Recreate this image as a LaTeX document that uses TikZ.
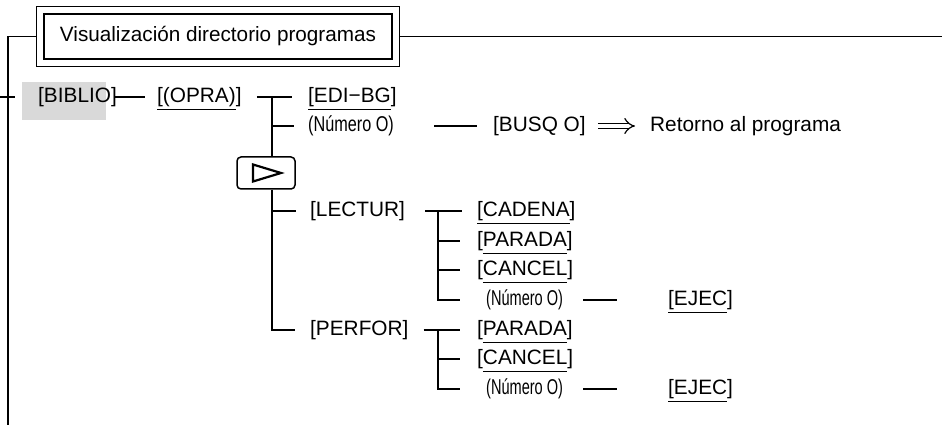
\documentclass[tikz,border=0pt]{standalone}
\usepackage{fontspec}
\setmainfont{Liberation Sans}
\usepackage{graphicx}
\usetikzlibrary{arrows.meta}
% underline drawn as a rule at a fixed depth below the baseline
\newcommand\ulbox[1]{\setbox0=\hbox{#1}\rlap{\rule[-7.6pt]{\wd0}{1.2pt}}\box0}
\newcommand\numO[1]{\scalebox{#1}[1.03]{(Número O)}}
\begin{document}
\begin{tikzpicture}[x=1pt,y=-1pt,
  txt/.style={anchor=west, inner sep=0pt, font=\fontsize{20.8}{24}\selectfont,
    text height=15.6pt, text depth=4.4pt},
  wire/.style={line width=1.6pt},
  titlebox/.style={draw, line width=1.2pt, inner sep=0pt, minimum width=348pt,
    minimum height=45pt, font=\fontsize{20.7}{24}\selectfont},
  playbox/.style={draw, rounded corners=4pt, minimum width=58pt, minimum height=32pt,
    fill=white, line width=1.5pt, inner sep=0pt},
  implies/.style={double, double distance=4.4pt, line width=1.2pt, -{Implies}}]
\useasboundingbox (0,0) rectangle (942,427);

% title with its double frame
\node[titlebox] (title) at (218,36.5) {Visualización directorio programas};
\draw[line width=1.7pt] ([shift={(-7pt,7pt)}]title.north west) rectangle ([shift={(7pt,-7pt)}]title.south east);

% outer rail
\coordinate (railtop) at (8,36.5);
\coordinate (railbot) at (8,425);
\coordinate (railend) at (942,36.5);
\coordinate (tickL) at (0,97);
\coordinate (tickR) at (15,97);
\draw[wire] ([xshift=-7pt]title.west) -- (railtop) -- (railbot);
\draw[wire] ([xshift=7pt]title.east) -- (railend);
\draw[wire] (tickL) -- (tickR);

% highlighted entry
\fill[black!15] (22,82) rectangle (106,120);

% entries
\node[txt] (biblio) at (38,97) {[BIBLIO]};
\node[txt] (opra) at (157,97) {\ulbox{[(OPRA)}]};
\node[txt] (edibg) at (308,97) {\ulbox{[EDI−BG}]};
\node[txt] (num1) at (308,126) {\numO{0.78}};
\node[txt] (busq) at (493,126) {[BUSQ O]};
\node[txt] (ret) at (650,126) {Retorno al programa};
\node[txt] (lectur) at (310,211) {[LECTUR]};
\node[txt] (cadena) at (477,211) {\ulbox{[CADENA}]};
\node[txt] (parada1) at (477,241) {[\ulbox{PARADA}]};
\node[txt] (cancel1) at (477,270) {[\ulbox{CANCEL}]};
\node[txt] (num2) at (486,300) {\numO{0.70}};
\node[txt] (ejec1) at (668,300) {\ulbox{[EJEC}]};
\node[txt] (perfor) at (310,330) {[PERFOR]};
\node[txt] (parada2) at (477,330) {[\ulbox{PARADA}]};
\node[txt] (cancel2) at (477,359) {[\ulbox{CANCEL}]};
\node[txt] (num3) at (486,389) {\numO{0.70}};
\node[txt] (ejec2) at (668,389) {\ulbox{[EJEC}]};

% start key
\node[playbox] (play) at (266,173) {};
\draw[line width=2.2pt, line join=miter]
  ([shift={(-13pt,8.5pt)}]play.center) -- ([shift={(15pt,0pt)}]play.center)
  -- ([shift={(-13pt,-8.5pt)}]play.center) -- cycle;

% first level
\draw[wire, shorten >=-2pt] ([xshift=-3pt]biblio.east) -- ([xshift=-14pt]opra.west);
\draw[wire, shorten <=15pt, shorten >=16pt] (opra) -- (edibg);
\coordinate (j0) at (272,97);
\coordinate (jN) at (272,126);
\coordinate (jL) at (272,211);
\coordinate (jP) at (272,330);
\draw[wire] (j0) -- (j0 |- play.north);
\draw[wire, shorten >=15pt] (jP |- play.south) -- (jP) -- (perfor);
\draw[wire, shorten >=14pt] (jN) -- (num1);
\draw[wire, shorten >=14pt] (jL) -- (lectur);
\draw[wire, shorten <=40pt, shorten >=16pt] (num1) -- (busq);
\draw[implies, shorten <=12pt, shorten >=15pt] (busq) -- (ret);

% LECTUR branch
\coordinate (kL) at (438,211);
\coordinate (kL2) at (438,241);
\coordinate (kL3) at (438,270);
\coordinate (kL4) at (438,300);
\draw[wire, shorten <=20pt, shorten >=15pt] (lectur) -- (cadena);
\draw[wire, shorten >=26pt] (kL) -- (kL4) -- (num2);
\draw[wire, shorten >=17pt] (kL2) -- (parada1);
\draw[wire, shorten >=17pt] (kL3) -- (cancel1);
\draw[wire, shorten <=20pt, shorten >=51pt] (num2) -- (ejec1);

% PERFOR branch
\coordinate (kP) at (438,330);
\coordinate (kP2) at (438,359);
\coordinate (kP3) at (438,389);
\draw[wire, shorten <=15pt, shorten >=17pt] (perfor) -- (parada2);
\draw[wire, shorten >=26pt] (kP) -- (kP3) -- (num3);
\draw[wire, shorten >=17pt] (kP2) -- (cancel2);
\draw[wire, shorten <=20pt, shorten >=51pt] (num3) -- (ejec2);
\end{tikzpicture}
\end{document}
